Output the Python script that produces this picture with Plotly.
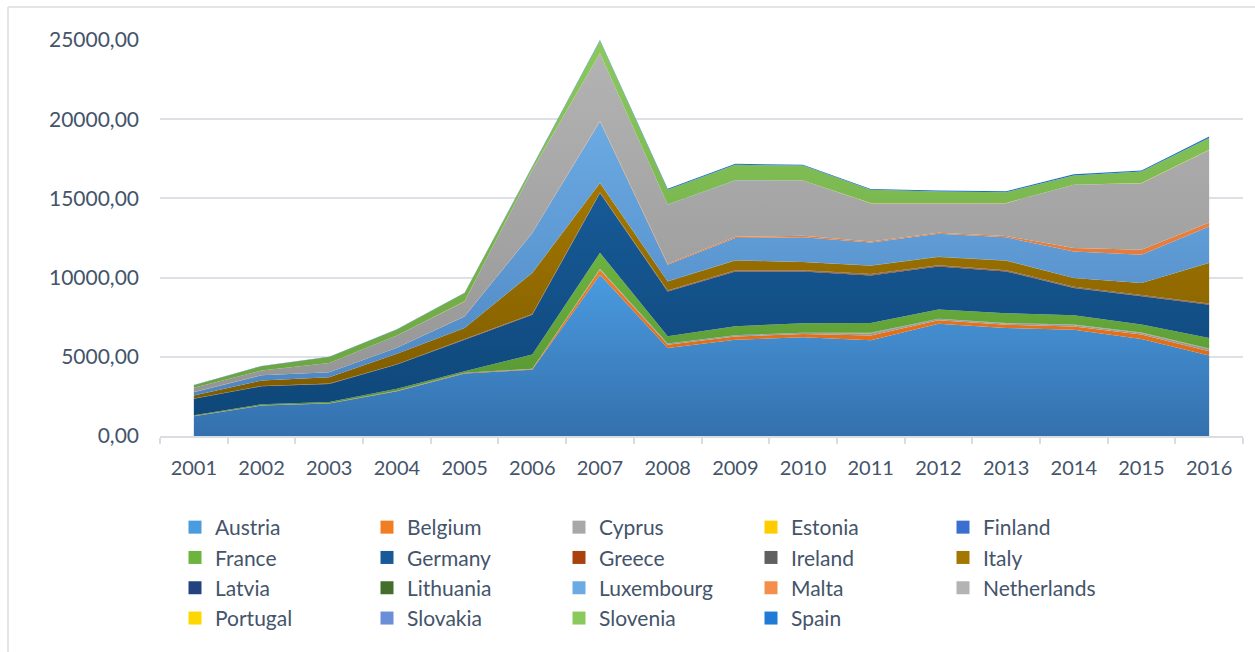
import plotly.graph_objects as go

years = list(range(2001, 2017))

countries = ["Austria", "Belgium", "Cyprus", "Estonia", "Finland", "France", "Germany",
             "Greece", "Ireland", "Italy", "Latvia", "Lithuania", "Luxembourg", "Malta",
             "Netherlands", "Portugal", "Slovakia", "Slovenia", "Spain"]

austria     = [1250, 1920, 2050, 2820, 3940, 4190, 10180, 5560, 6080, 6230, 6040, 7090, 6820, 6715, 6130, 5080]
belgium     = [10, 10, 10, 20, 30, 30, 310, 200, 200, 210, 300, 210, 210, 200, 270, 270]
cyprus      = [5, 5, 5, 10, 10, 20, 50, 60, 60, 60, 150, 80, 80, 100, 110, 150]
estonia     = [0, 0, 0, 0, 0, 0, 5, 5, 5, 5, 5, 5, 5, 5, 5, 5]
finland     = [5, 5, 5, 10, 10, 10, 20, 20, 20, 20, 20, 20, 20, 20, 20, 20]
france      = [40, 60, 80, 130, 100, 900, 1000, 450, 560, 600, 620, 580, 620, 580, 500, 660]
germany     = [1035, 1140, 1140, 1520, 1990, 2510, 3770, 2835, 3465, 3265, 3005, 2720, 2635, 1720, 1780, 2105]
greece      = [10, 10, 10, 10, 20, 20, 20, 30, 40, 40, 40, 40, 40, 40, 40, 40]
ireland     = [10, 10, 10, 10, 20, 20, 20, 30, 30, 30, 40, 40, 40, 40, 40, 40]
italy       = [190, 340, 395, 655, 700, 2590, 590, 570, 620, 520, 530, 515, 595, 550, 760, 2550]
latvia      = [0, 0, 0, 0, 0, 5, 5, 5, 5, 5, 5, 5, 5, 5, 5, 5]
lithuania   = [0, 0, 0, 0, 5, 5, 5, 5, 5, 5, 5, 5, 5, 5, 5, 5]
luxembourg  = [210, 335, 315, 380, 725, 2510, 3875, 1045, 1405, 1565, 1460, 1460, 1465, 1670, 1775, 2300]
malta       = [5, 5, 5, 5, 10, 20, 60, 60, 80, 80, 60, 60, 80, 215, 320, 250]
netherlands = [270, 290, 585, 770, 935, 3970, 4250, 3725, 3555, 3490, 2420, 1870, 2080, 3990, 4200, 4580]
portugal    = [0, 0, 0, 0, 5, 5, 5, 5, 5, 5, 5, 5, 5, 5, 5, 5]
slovakia    = [0, 0, 0, 0, 5, 5, 5, 5, 5, 5, 5, 5, 5, 5, 5, 5]
slovenia    = [165, 270, 380, 380, 520, 200, 785, 935, 980, 935, 830, 725, 685, 580, 725, 750]
spain       = [20, 20, 20, 20, 20, 30, 40, 60, 60, 60, 60, 60, 60, 80, 60, 80]

series = [austria, belgium, cyprus, estonia, finland, france, germany, greece, ireland,
          italy, latvia, lithuania, luxembourg, malta, netherlands, portugal, slovakia,
          slovenia, spain]

# (light top, dark bottom)
colors = [
    ("#4A9BE0", "#3470AD"),  # Austria
    ("#F27C22", "#D0600E"),  # Belgium
    ("#A8A8A8", "#8A8A8A"),  # Cyprus
    ("#FFCC00", "#D9A300"),  # Estonia
    ("#3A6FD0", "#2A55A8"),  # Finland
    ("#6DB33F", "#559232"),  # France
    ("#175A97", "#0F4779"),  # Germany
    ("#A8420F", "#8A3307"),  # Greece
    ("#606060", "#474747"),  # Ireland
    ("#A37700", "#7F5C00"),  # Italy
    ("#22437E", "#132C5C"),  # Latvia
    ("#446E2A", "#2E4D1B"),  # Lithuania
    ("#6BAAE2", "#4E86C2"),  # Luxembourg
    ("#F58E4D", "#D06A2C"),  # Malta
    ("#B3B3B3", "#959595"),  # Netherlands
    ("#FFD700", "#E0A800"),  # Portugal
    ("#6A8FD8", "#4A6DB6"),  # Slovakia
    ("#8BC95C", "#6BA543"),  # Slovenia
    ("#1F7BD6", "#1560AA"),  # Spain
]

font_family = "Lato, 'Open Sans', sans-serif"
text_color = "#44546A"

fig = go.Figure()

for name, vals, (light, dark) in zip(countries, series, colors):
    fig.add_trace(go.Scatter(
        x=years, y=vals, name=name, mode="lines",
        stackgroup="one",
        line=dict(width=0, color=light),
        fillgradient=dict(type="vertical", colorscale=[[0, dark], [1, light]]),
        showlegend=False,
        hoverinfo="x+y+name",
    ))

for name, (light, dark) in zip(countries, colors):
    fig.add_trace(go.Scatter(
        x=[None], y=[None], name=name, mode="markers",
        marker=dict(symbol="square", size=13, color=light,
                    line=dict(width=0)),
        showlegend=True,
    ))

W, H = 1255, 652
ml, mr, mt, mb = 160, 12, 40, 216
pw = W - ml - mr
ph = H - mt - mb

def px_to_paper_x(px):
    return (px - ml) / pw

def px_to_paper_y(py):
    return (H - mb - py) / ph

frame_x = px_to_paper_x(8)
frame_top = px_to_paper_y(7)
frame_bottom = px_to_paper_y(H + 5)
frame_right = px_to_paper_x(W + 5)

fig.update_layout(
    width=W, height=H,
    margin=dict(l=ml, r=mr, t=mt, b=mb, pad=0),
    paper_bgcolor="white",
    plot_bgcolor="white",
    separators=",.",
    font=dict(family=font_family, size=20, color=text_color),
    xaxis=dict(
        range=[2000.5, 2016.5],
        tickmode="array", tickvals=years, ticktext=[str(y) for y in years],
        ticks="", showgrid=False, zeroline=False,
        showline=True, linecolor="#D9DCE1", linewidth=1.5,
        tickfont=dict(size=20, color=text_color),
        ticklabelstandoff=13,
        minor=dict(tick0=2000.5, dtick=1, ticks="outside", ticklen=6,
                   tickcolor="#D9DCE1", tickwidth=1.5, showgrid=False),
    ),
    yaxis=dict(
        range=[0, 25000],
        tickmode="linear", tick0=0, dtick=5000,
        tickformat=".2f",
        showgrid=True, gridcolor="#DDE0E5", gridwidth=1.5,
        zeroline=False, showline=False, ticks="",
        tickfont=dict(size=21, color=text_color),
        ticklabelstandoff=20,
    ),
    legend=dict(
        orientation="h",
        traceorder="normal",
        x=px_to_paper_x(175), xanchor="left",
        y=px_to_paper_y(507), yanchor="top",
        entrywidth=147, entrywidthmode="pixels",
        font=dict(size=21, color=text_color, family=font_family),
        bgcolor="rgba(0,0,0,0)",
        itemsizing="trace",
        tracegroupgap=0,
    ),
    shapes=[
        dict(type="line", xref="paper", yref="paper",
             x0=frame_x, x1=frame_x, y0=frame_bottom, y1=frame_top,
             line=dict(color="#DADDE2", width=1.5)),
        dict(type="line", xref="paper", yref="paper",
             x0=frame_x, x1=frame_right, y0=frame_top, y1=frame_top,
             line=dict(color="#DADDE2", width=1.5)),
    ],
    showlegend=True,
)

fig.write_html("out.html", config={"displayModeBar": False},
               post_script="document.body.style.margin='0';")
